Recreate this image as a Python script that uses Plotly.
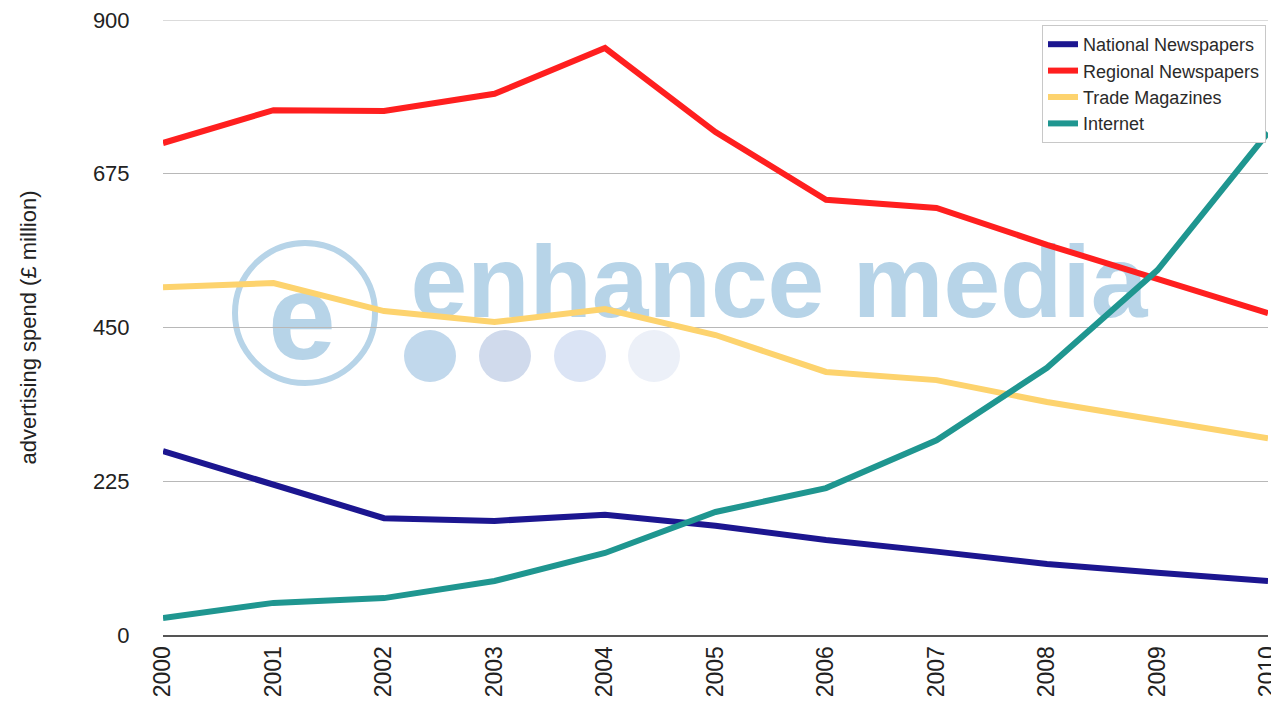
import plotly.graph_objects as go

years = [2000, 2001, 2002, 2003, 2004, 2005, 2006, 2007, 2008, 2009, 2010]
national = [269, 221, 171, 167, 176, 160, 139, 122, 104, 91, 79]
regional = [720, 768, 767, 792, 859, 736, 637, 625, 571, 520, 471]
trade = [509, 515, 474, 458, 477, 439, 385, 373, 341, 315, 288]
internet = [25, 47, 54, 79, 120, 180, 215, 285, 391, 534, 735]

series_names = ["National Newspapers", "Regional Newspapers", "Trade Magazines", "Internet"]
series_values = [national, regional, trade, internet]
colors = ["#1c1690", "#ff1f1f", "#fdd36e", "#1f9690"]

y_ticks = [0, 225, 450, 675, 900]

fig = go.Figure()
for name, vals, c in zip(series_names, series_values, colors):
    fig.add_trace(go.Scatter(x=years, y=vals, name=name, mode="lines",
                             line=dict(color=c, width=6)))

# the page body has an 8px margin; figure is drawn from (8, 8)
OFF = 8
W, H = 1279 - OFF, 704 - OFF
# plot area in screen pixels: x 163..1268, y 20..635
L, R, T, B = 163, 1268, 20, 635
def px(x):
    return (x - L) / (R - L)
def py(y):
    return (B - y) / (B - T)

wm = "rgb(183,212,232)"
shapes = []
# ring
shapes.append(dict(type="circle", xref="paper", yref="paper", layer="below",
                   x0=px(305 - 70), x1=px(305 + 70), y0=py(313 + 70), y1=py(313 - 70),
                   line=dict(color=wm, width=6)))
# inner "e"
shapes.append(dict(type="rect", xref="paper", yref="paper", layer="below",
                   x0=px(262), x1=px(342), y0=py(350), y1=py(260),
                   line=dict(width=0), fillcolor="rgba(0,0,0,0)",
                   label=dict(text="<b>e</b>", font=dict(size=122, color=wm, family="Liberation Sans"),
                              textposition="middle center")))
# word mark
shapes.append(dict(type="rect", xref="paper", yref="paper", layer="below",
                   x0=px(398), x1=px(1160), y0=py(322), y1=py(222),
                   line=dict(width=0), fillcolor="rgba(0,0,0,0)",
                   label=dict(text="<b>enhance media</b>", font=dict(size=102, color=wm, family="Liberation Sans"),
                              textposition="middle center")))
dot_colors = ["rgb(193,216,236)", "rgb(208,218,236)", "rgb(219,228,245)", "rgb(236,240,248)"]
for cx, dc in zip([430, 505, 580, 654], dot_colors):
    shapes.append(dict(type="circle", xref="paper", yref="paper", layer="below",
                       x0=px(cx - 26), x1=px(cx + 26), y0=py(356 + 26), y1=py(356 - 26),
                       line=dict(width=0), fillcolor=dc))
# top gridline at 900 (sits on the plot edge)
shapes.append(dict(type="line", xref="paper", yref="y", layer="below",
                   x0=0, x1=1, y0=y_ticks[-1], y1=y_ticks[-1],
                   line=dict(color="#b8b8b8", width=1)))

fig.update_layout(
    width=W, height=H,
    margin=dict(l=L - OFF, r=W - (R - OFF), t=T - OFF, b=H - (B - OFF), autoexpand=False),
    plot_bgcolor="white", paper_bgcolor="white",
    font=dict(family="Liberation Sans, Arial, sans-serif", color="#222"),
    shapes=shapes,
    showlegend=True,
    legend=dict(x=px(1266), y=py(25), xanchor="right", yanchor="top",
                bgcolor="white", bordercolor="#c8c8c8", borderwidth=1,
                font=dict(size=18, color="#2a2a2a"), itemwidth=30,
                tracegroupgap=0),
    xaxis=dict(range=[2000, 2010], tickvals=years, ticktext=[str(y) for y in years],
               tickangle=-90, tickfont=dict(size=23, color="#222"),
               showgrid=False, showline=True, linecolor="#555", linewidth=2,
               zeroline=False, ticks="", mirror=False, automargin=False,
               ticklabeloverflow="allow"),
    yaxis=dict(range=[0, 900], tickvals=y_ticks, ticktext=[str(v) for v in y_ticks],
               tickfont=dict(size=22, color="#222"),
               showgrid=True, gridcolor="#b8b8b8", gridwidth=1,
               zeroline=False, showline=False, automargin=False,
               ticklabeloverflow="allow",
               ticks="outside", ticklen=28, tickcolor="rgba(0,0,0,0)",
               title=dict(text="advertising spend (£ million)", font=dict(size=22, color="#222"),
                          standoff=50)),
)

fig.write_html("out.html")
